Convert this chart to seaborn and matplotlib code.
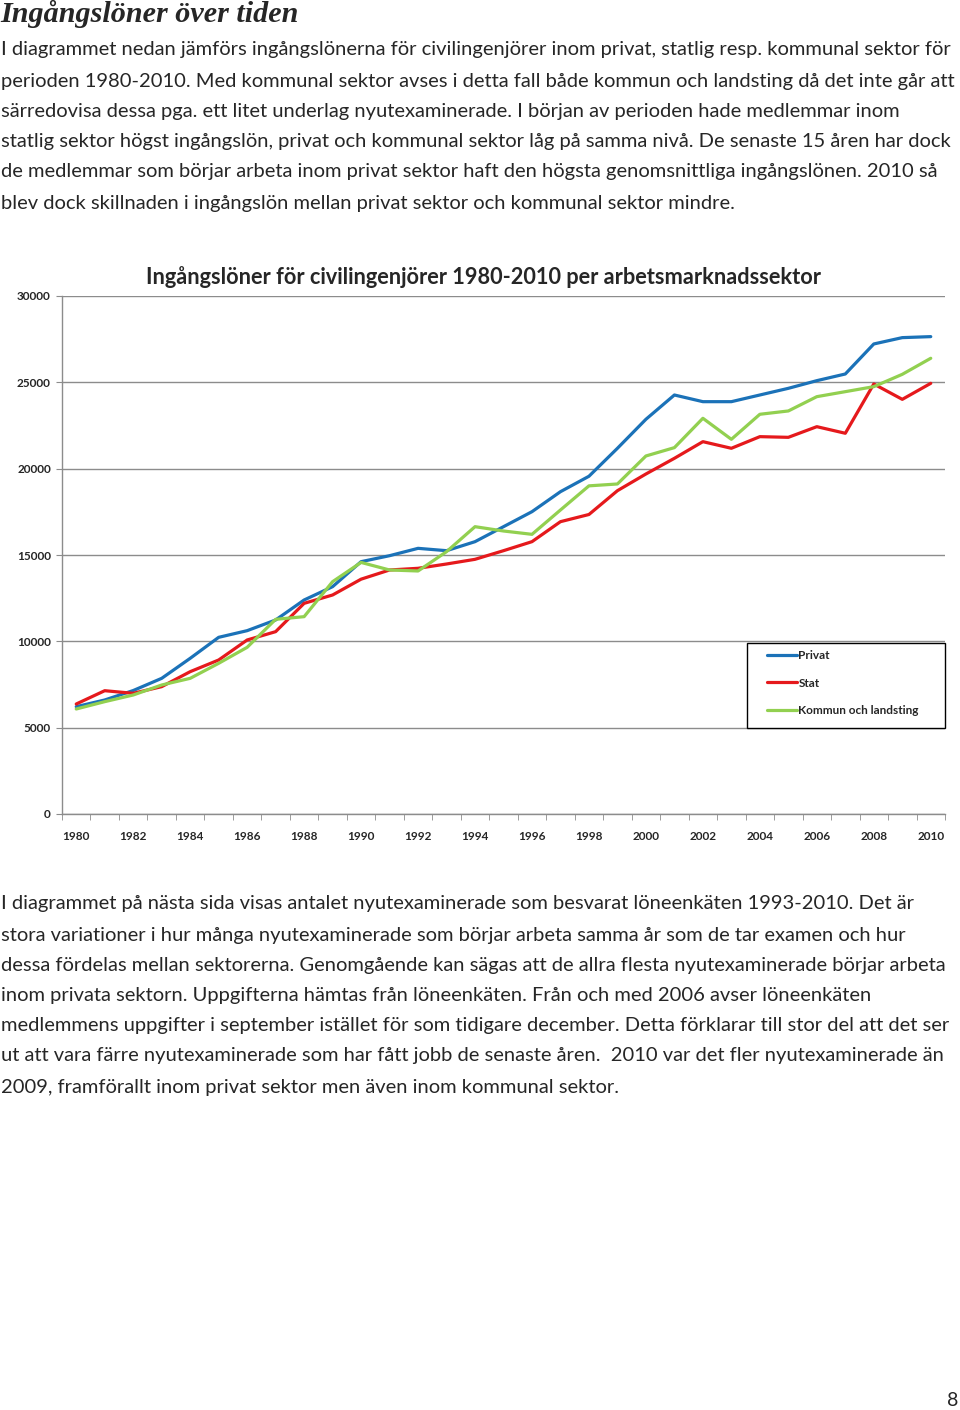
import numpy as np
import pandas as pd
import matplotlib
matplotlib.use("Agg")
import matplotlib.pyplot as plt
from matplotlib.patches import Rectangle
import seaborn as sns

years = list(range(1980, 2011))
privat = [6216, 6603, 7150, 7857, 9016, 10232, 10618, 11236, 12394, 13166,
          14614, 14960, 15386, 15250, 15772, 16640, 17509, 18667, 19560, 21180,
          22860, 24267, 23880, 23880, 24267, 24653, 25097, 25483, 27222, 27589, 27647]
stat = [6371, 7141, 6990, 7375, 8243, 8919, 10078, 10560, 12200, 12684,
        13600, 14132, 14230, 14479, 14750, 15250, 15772, 16930, 17346, 18725,
        19692, 20600, 21564, 21180, 21854, 21815, 22432, 22050, 24904, 24015, 24943]
kommun = [6081, 6506, 6892, 7471, 7857, 8727, 9653, 11274, 11429, 13456,
          14570, 14132, 14074, 15193, 16640, 16390, 16197, 17607, 19005, 19113,
          20735, 21218, 22918, 21700, 23150, 23342, 24170, 24460, 24750, 25464, 26393]
series_names = ["Privat", "Stat", "Kommun och landsting"]
colors = ["#1B72B8", "#E5191C", "#92D050"]

heading = "Ingångslöner över tiden"
para1 = [
    "I diagrammet nedan jämförs ingångslönerna för civilingenjörer inom privat, statlig resp. kommunal sektor för",
    "perioden 1980-2010. Med kommunal sektor avses i detta fall både kommun och landsting då det inte går att",
    "särredovisa dessa pga. ett litet underlag nyutexaminerade. I början av perioden hade medlemmar inom",
    "statlig sektor högst ingångslön, privat och kommunal sektor låg på samma nivå. De senaste 15 åren har dock",
    "de medlemmar som börjar arbeta inom privat sektor haft den högsta genomsnittliga ingångslönen. 2010 så",
    "blev dock skillnaden i ingångslön mellan privat sektor och kommunal sektor mindre.",
]
para2 = [
    "I diagrammet på nästa sida visas antalet nyutexaminerade som besvarat löneenkäten 1993-2010. Det är",
    "stora variationer i hur många nyutexaminerade som börjar arbeta samma år som de tar examen och hur",
    "dessa fördelas mellan sektorerna. Genomgående kan sägas att de allra flesta nyutexaminerade börjar arbeta",
    "inom privata sektorn. Uppgifterna hämtas från löneenkäten. Från och med 2006 avser löneenkäten",
    "medlemmens uppgifter i september istället för som tidigare december. Detta förklarar till stor del att det ser",
    "ut att vara färre nyutexaminerade som har fått jobb de senaste åren.  2010 var det fler nyutexaminerade än",
    "2009, framförallt inom privat sektor men även inom kommunal sektor.",
]
chart_title = "Ingångslöner för civilingenjörer 1980-2010 per arbetsmarknadssektor"

df = pd.DataFrame({
    "År": years * 3,
    "Lön": privat + stat + kommun,
    "Sektor": [series_names[0]] * len(years) + [series_names[1]] * len(years) + [series_names[2]] * len(years),
})

sns.set_style("white")
plt.rcParams["font.family"] = ["Lato", "DejaVu Sans"]

W, H = 960, 1410
fig = plt.figure(figsize=(W / 100, H / 100), dpi=100)

def fy(px):
    return 1 - px / H

def fx(px):
    return px / W

# page text
fig.text(fx(0), fy(14), heading, family="Liberation Serif", style="italic",
         weight="bold", fontsize=21.7, va="center", ha="left")
ys1 = [50, 81, 111, 142, 172, 203]
for y, line in zip(ys1, para1):
    fig.text(fx(1), fy(y), line, fontsize=14.5, va="center", ha="left")
ys2 = [904, 935, 965, 995, 1026, 1056, 1087]
for y, line in zip(ys2, para2):
    fig.text(fx(1), fy(y), line, fontsize=14.5, va="center", ha="left")
fig.text(fx(958), fy(1400), "8", fontsize=14, va="center", ha="right")

# chart
left, right, top, bottom = 62, 945, 296, 814
aw, ah = right - left, bottom - top
ax = fig.add_axes([fx(left), fy(bottom), fx(aw), ah / H])
sns.lineplot(data=df, x="År", y="Lön", hue="Sektor", hue_order=series_names,
             palette=colors, linewidth=2.3, ax=ax)

ax.set_xlim(1979.5, 2010.5)
ax.set_ylim(0, 30000)
ax.set_yticks(np.arange(0, 30001, 5000))
ax.set_yticklabels([str(v) for v in range(0, 30001, 5000)], fontsize=8.5, weight="bold")
ax.set_xticks(years[::2])
ax.set_xticklabels([str(y) for y in years[::2]], fontsize=8.5, weight="bold")
ax.set_xticks(np.arange(1979.5, 2011, 1), minor=True)
ax.set_xlabel("")
ax.set_ylabel("")
ax.yaxis.grid(True, color="#8C8C8C", linewidth=1.0)
ax.set_axisbelow(True)
for s in ["top", "right"]:
    ax.spines[s].set_visible(False)
for s in ["left", "bottom"]:
    ax.spines[s].set_color("#8C8C8C")
    ax.spines[s].set_linewidth(1.0)
ax.tick_params(axis="y", which="major", length=4, color="#8C8C8C", pad=4, left=True)
ax.tick_params(axis="x", which="major", length=0, pad=12)
ax.tick_params(axis="x", which="minor", length=4, color="#8C8C8C", bottom=True)

handles, labels = ax.get_legend_handles_labels()
ax.legend(handles, labels, loc="upper left",
          bbox_to_anchor=((767 - left) / aw, (bottom - 650) / ah),
          prop={"weight": "bold", "size": 8.5},
          frameon=False, borderpad=0, borderaxespad=0,
          handlelength=2.55, handletextpad=0.1, labelspacing=1.4)

ax.add_patch(Rectangle(((747 - left) / aw, (bottom - 728) / ah),
                       (945 - 747) / aw, (728 - 643) / ah,
                       transform=ax.transAxes, fill=True, facecolor="white",
                       edgecolor="black", linewidth=1.0, clip_on=False, zorder=4))
ax.get_legend().set_zorder(5)

fig.text(fx(483), fy(277), chart_title, fontsize=15.7, weight="bold", ha="center", va="center")

fig.savefig("out.png", dpi=100)
